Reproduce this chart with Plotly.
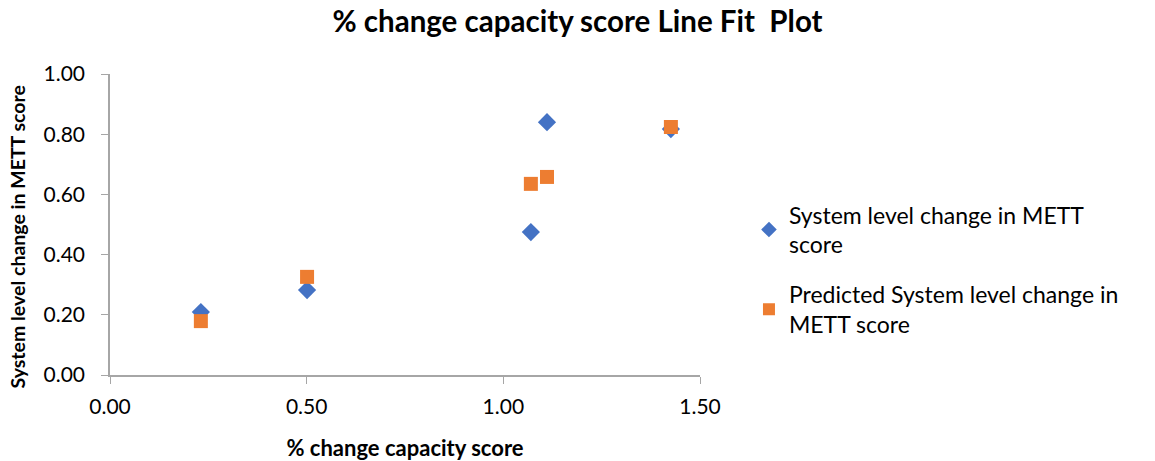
import plotly.graph_objects as go

x_vals = [0.231, 0.501, 1.070, 1.111, 1.426]
actual = [0.209, 0.282, 0.475, 0.840, 0.817]
predicted = [0.179, 0.326, 0.635, 0.658, 0.824]

title = "% change capacity score Line Fit  Plot"
x_title = "% change capacity score"
y_title = "System level change in METT score"
names = ["System level change in METT<br>score", "Predicted System level change in<br>METT score"]

font = "Lato, 'Open Sans', sans-serif"

fig = go.Figure()
fig.add_trace(go.Scatter(x=x_vals, y=actual, mode="markers", name=names[0], legendgroup="g1",
                         marker=dict(symbol="diamond", size=14, color="#4472C4")))
fig.add_trace(go.Scatter(x=x_vals, y=predicted, mode="markers", name=names[1], legendgroup="g2",
                         marker=dict(symbol="square", size=14, color="#ED7D31")))

fig.update_layout(
    width=1155, height=461,
    margin=dict(l=110, r=455, t=74, b=86),
    paper_bgcolor="white", plot_bgcolor="white",
    font=dict(family=font, color="#000000"),
    title=dict(text="<b>" + title + "</b>", x=0.5, xanchor="center", y=1 - 22 / 461, yanchor="middle",
               font=dict(size=29.5, family=font)),
    xaxis=dict(range=[0, 1.5], tickvals=[0, 0.5, 1.0, 1.5], tickformat=".2f", automargin=False,
               showline=True, linecolor="#A6A6A6", linewidth=1.5, ticks="outside", tickcolor="#A6A6A6",
               ticklen=7, showgrid=False, zeroline=False, tickfont=dict(size=21),
               ticklabelstandoff=5,
               title=dict(text="<b>" + x_title + "</b>", font=dict(size=22), standoff=24)),
    yaxis=dict(range=[0, 1.0], tickvals=[0, 0.2, 0.4, 0.6, 0.8, 1.0], tickformat=".2f", automargin=False,
               showline=True, linecolor="#A6A6A6", linewidth=1.5, ticks="outside", tickcolor="#A6A6A6",
               ticklen=7, showgrid=False, zeroline=False, tickfont=dict(size=21),
               ticklabelstandoff=12),
    legend=dict(x=1.083, y=0.35, xanchor="left", yanchor="middle", font=dict(size=23),
                tracegroupgap=17, itemsizing="constant"),
)

fig.add_annotation(text="<b>" + y_title + "</b>", xref="paper", yref="paper",
                   x=-0.156, y=0.46, xanchor="center", yanchor="middle",
                   textangle=-90, showarrow=False, font=dict(size=19.5, family=font))

fig.write_html("out.html", config={"displayModeBar": False},
               post_script="document.body.style.margin='0';")
